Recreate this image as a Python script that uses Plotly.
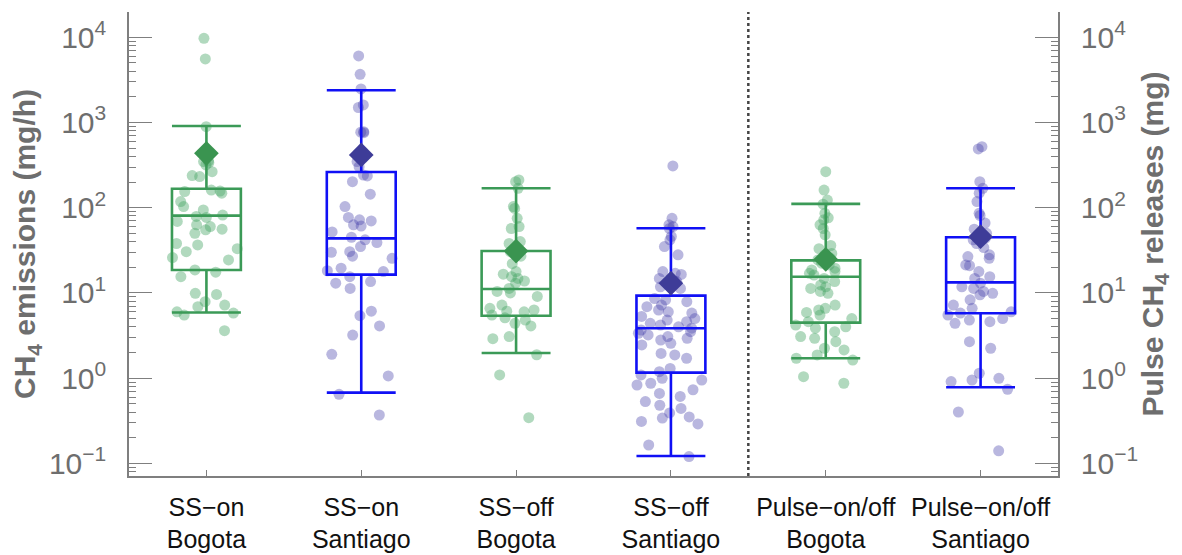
import plotly.graph_objects as go

# ---------------- data ----------------
categories = ["SS\u2212on<br>Bogota", "SS\u2212on<br>Santiago", "SS\u2212off<br>Bogota",
              "SS\u2212off<br>Santiago", "Pulse\u2212on/off<br>Bogota", "Pulse\u2212on/off<br>Santiago"]
city = ["Bogota", "Santiago", "Bogota", "Santiago", "Bogota", "Santiago"]
axis_side = ["left", "left", "left", "left", "right", "right"]

y_tick_values = [0.1, 1, 10, 100, 1000, 10000]
y_tick_labels = ["10<sup>\u22121</sup>", "10<sup>0</sup>", "10<sup>1</sup>",
                 "10<sup>2</sup>", "10<sup>3</sup>", "10<sup>4</sup>"]

ss_on_bogota = [9730, 5570, 894, 353, 348, 338, 318, 265, 238, 232, 161, 157, 155, 148, 118,
                103, 94, 82, 79, 77, 69, 63, 60, 56, 55, 50, 38, 36.6, 33, 30.5, 26, 24.4,
                18.6, 17.5, 15.5, 9.9, 9.6, 7.9, 7.2, 6.9, 6.0, 5.8, 5.5, 3.6]
ss_on_santiago = [6040, 3680, 2480, 1610, 1500, 781, 770, 760, 348, 303, 242, 236, 202, 144,
                  103, 77, 72, 70, 63, 61, 52, 45, 42, 39, 35, 30.5, 30, 27, 25.5, 19.5, 18.2,
                  17.8, 15.5, 13.6, 13, 11.3, 6.1, 5.4, 4.1, 3.2, 1.9, 1.06, 0.645, 0.369]
ss_off_bogota = [212, 202, 169, 103, 98, 75, 60, 57, 40, 38, 30.5, 28, 27, 22, 17.8, 16.6,
                 15.5, 14.8, 13.8, 13, 11.3, 10.4, 10, 9.1, 7.2, 6.6, 6.3, 6.1, 6.0, 5.5, 5.1,
                 4.8, 4.4, 4.1, 3.07, 2.9, 1.88, 1.09, 0.343]
ss_off_santiago = [309, 75, 63, 60, 57, 46, 42, 35, 28, 17.8, 17.0, 16.5, 14.8, 13.6, 12.4,
                   11.8, 11.3, 8.6, 8.3, 7.9, 7.2, 6.9, 6.3, 6.0, 5.8, 5.3, 5.0, 4.8, 4.6, 4.4,
                   4.2, 4.0, 3.85, 3.67, 3.51, 3.36, 3.21, 3.07, 2.93, 2.80, 2.56, 2.45, 1.95,
                   1.87, 1.71, 1.30, 1.19, 1.09, 0.995, 0.95, 0.87, 0.83, 0.73, 0.66, 0.61,
                   0.53, 0.48, 0.44, 0.39, 0.35, 0.34, 0.31, 0.29, 0.164, 0.120]
pulse_bogota = [265, 161, 123, 110, 86, 76, 72, 63, 57, 48, 36, 33, 29, 28, 25.5, 24.4, 22.3,
                21.3, 19.5, 18.6, 17.8, 17.0, 16.2, 14.8, 13.6, 12.4, 11.8, 11.3, 10.4, 9.9,
                7.2, 6.6, 6.3, 5.9, 5.5, 5.0, 4.6, 4.2, 4.0, 3.85, 3.5, 3.07, 2.93, 2.68, 2.24,
                2.14, 1.87, 1.71, 1.63, 1.04, 0.87]
pulse_santiago = [521, 489, 202, 169, 148, 118, 86, 81, 66, 56, 50, 46, 44, 42, 38, 34, 28,
                  26.7, 25.5, 21.3, 20.9, 17.8, 15.5, 14.8, 13.0, 11.8, 11.3, 10.4, 9.9, 9.5,
                  8.3, 7.2, 6.6, 6.0, 5.8, 5.5, 5.0, 4.8, 4.6, 4.4, 2.68, 2.24, 1.14, 0.995,
                  0.95, 0.91, 0.74, 0.40, 0.14]
group_points = [ss_on_bogota, ss_on_santiago, ss_off_bogota, ss_off_santiago,
                pulse_bogota, pulse_santiago]

lower_whisker = [5.9, 0.675, 1.97, 0.122, 1.71, 0.78]
q1 = [18.6, 16.4, 5.4, 1.16, 4.48, 5.77]
median = [80.7, 43.7, 11.1, 3.85, 15.5, 13.3]
q3 = [167, 262, 31, 9.3, 24.1, 45]
upper_whisker = [910, 2390, 169, 57.3, 111, 169]
means = [435, 416, 31, 13.0, 24.8, 45.7]

# ---------------- styles ----------------
line_col = {"Bogota": "#3b9a57", "Santiago": "#1010f5"}
pt_col = {"Bogota": "rgba(70,165,100,0.42)", "Santiago": "rgba(70,65,170,0.38)"}
mean_col = {"Bogota": "#3a9450", "Santiago": "#3e3c98"}
GRAY = "#6e6e6e"
AX = "#7f7f7f"
NARROW = "Liberation Sans Narrow, Arial Narrow, Liberation Sans, Arial, sans-serif"
SANS = "Liberation Sans, Arial, Helvetica, sans-serif"

fig = go.Figure()
positions = list(range(1, len(categories) + 1))

for i, pos in enumerate(positions):
    c = city[i]
    ya = "y" if axis_side[i] == "left" else "y2"
    pts = group_points[i]
    # jittered sample points (plotly's own jitter)
    fig.add_trace(go.Box(
        x=[pos] * len(pts), y=pts, yaxis=ya,
        boxpoints="all", jitter=1.0, pointpos=0, width=0.45,
        marker=dict(color=pt_col[c], size=11, line=dict(width=0)),
        line=dict(width=0, color="rgba(0,0,0,0)"), fillcolor="rgba(0,0,0,0)",
        hoveron="points", showlegend=False))
    # box with whiskers from the statistics
    fig.add_trace(go.Box(
        x=[pos], q1=[q1[i]], median=[median[i]], q3=[q3[i]],
        lowerfence=[lower_whisker[i]], upperfence=[upper_whisker[i]], yaxis=ya,
        boxpoints=False, width=0.445, whiskerwidth=1,
        line=dict(color=line_col[c], width=2.6), fillcolor="rgba(0,0,0,0)",
        showlegend=False))
    # mean marker
    fig.add_trace(go.Scatter(
        x=[pos], y=[means[i]], yaxis=ya, mode="markers",
        marker=dict(symbol="diamond", size=19, color=mean_col[c], line=dict(width=0)),
        showlegend=False))

yrange = [-1.149, 4.297]
common_y = dict(
    type="log", range=yrange, tickmode="array", tickvals=y_tick_values, ticktext=y_tick_labels,
    tickfont=dict(family=NARROW, size=30, color=GRAY),
    ticks="inside", ticklen=23, tickwidth=1.3, tickcolor=AX,
    minor=dict(ticks="inside", ticklen=7, tickwidth=1, tickcolor=AX, dtick="D1"),
    showline=True, linecolor=AX, linewidth=1.5, showgrid=False, zeroline=False,
    ticklabelstandoff=15, automargin=False,
)

fig.update_layout(
    width=1182, height=555,
    margin=dict(l=129, r=124, t=12, b=79),
    paper_bgcolor="white", plot_bgcolor="white",
    boxmode="overlay",
    xaxis=dict(range=[0.5, 6.5], tickmode="array", tickvals=positions, ticktext=categories,
               ticks="inside", ticklen=6, tickwidth=1.3, tickcolor=AX,
               tickfont=dict(family=SANS, size=25, color="#111111"),
               showline=True, linecolor=AX, linewidth=1.5, showgrid=False, zeroline=False,
               ticklabelstandoff=8, automargin=False),
    xaxis2=dict(range=[0.5, 6.5], overlaying="x", side="top", anchor="y",
                tickmode="array", tickvals=positions, showticklabels=False,
                ticks="inside", ticklen=6, tickwidth=1.3, tickcolor=AX,
                minor=dict(ticks="inside", ticklen=3, tickwidth=1, tickcolor=AX,
                           tickmode="linear", tick0=0, dtick=0.2),
                showline=True, linecolor=AX, linewidth=1.5, showgrid=False, zeroline=False,
                automargin=False),
    yaxis=dict(**common_y,
               title=dict(text="<b>CH<sub>4</sub> emissions (mg/h)</b>",
                          font=dict(family=NARROW, size=30, color=GRAY), standoff=4)),
    yaxis2=dict(**common_y, overlaying="y", side="right", anchor="x",
                title=dict(text="<b>Pulse CH<sub>4</sub> releases (mg)</b>",
                           font=dict(family=NARROW, size=30, color=GRAY), standoff=5)),
    shapes=[dict(type="line", xref="x", yref="paper", x0=4.5, x1=4.5, y0=0, y1=1,
                 line=dict(color="#444444", width=2.5, dash="dot"))],
)

fig.write_html("out.html", config={"displayModeBar": False},
               post_script="document.body.style.margin='0px';document.body.style.overflow='hidden';")
